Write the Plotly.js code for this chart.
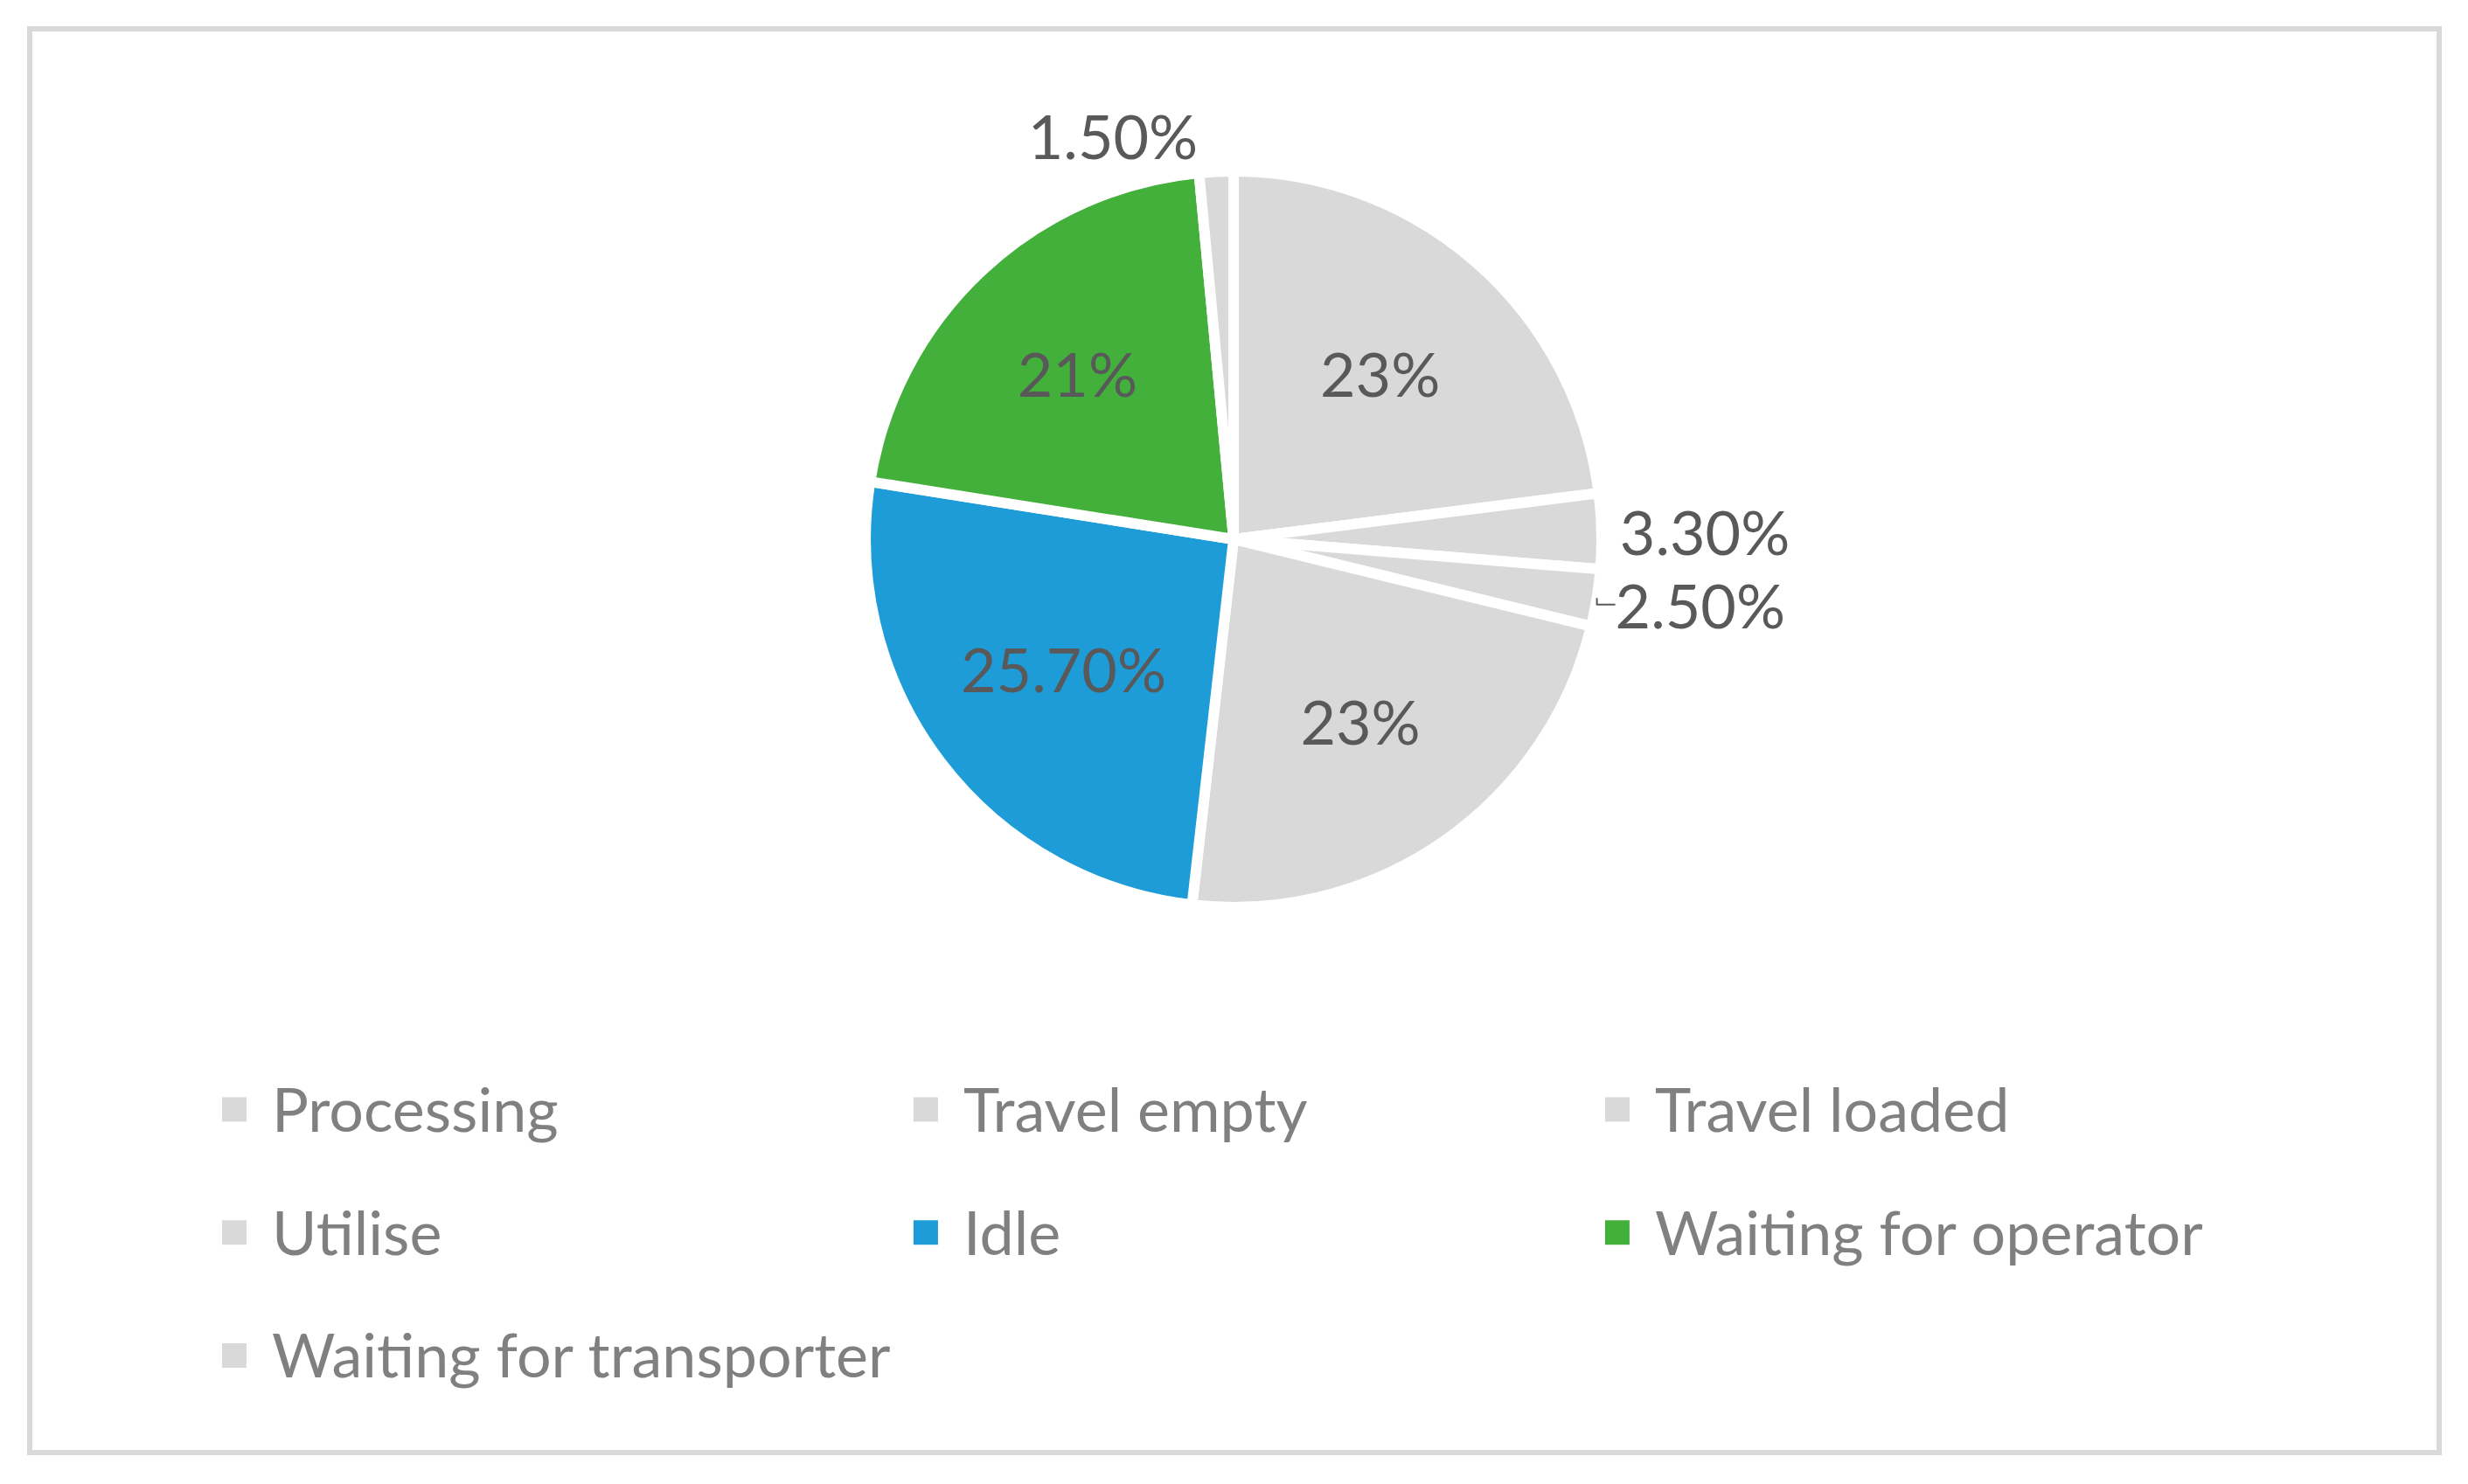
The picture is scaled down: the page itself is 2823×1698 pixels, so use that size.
<!DOCTYPE html>
<html>
<head>
<meta charset="utf-8">
<script src="https://cdn.plot.ly/plotly-3.0.1.min.js"></script>
<style>
    body { margin: 0; background: #fff; }
    /* legend text drawn smaller than the legend font, so the rows get the wider spacing */
    .legendtext { font-size: 70px !important; transform: translate(17px, 0); font-variant-ligatures: none; }
    .legendpie { stroke-width: 0 !important; transform: translate(14px, 16px) scale(2.333) !important; }
</style>
</head>
<body>
<div id="chartContainer" style="width:2823px;height:1698px;"></div>
<script>
// slice order, clockwise from 12 o'clock
var categories = ['Processing', 'Travel empty', 'Travel loaded', 'Utilise', 'Idle',
                  'Waiting for operator', 'Waiting for transporter'];
var shares = [23, 3.3, 2.5, 23, 25.7, 21, 1.5];
var shareLabels = ['23%', '3.30%', '2.50%', '23%', '25.70%', '21%', '1.50%'];
var labelPlaces = ['inside', 'outside', 'outside', 'inside', 'inside', 'inside', 'outside'];
var sliceColors = ['#d9d9d9', '#d9d9d9', '#d9d9d9', '#d9d9d9', '#1e9cd8', '#43b03b', '#d9d9d9'];

var font = 'Lato, "Open Sans", sans-serif';

var trace = {
    type: 'pie',
    labels: categories,
    values: shares,
    text: shareLabels,
    texttemplate: '%{text}',
    textposition: labelPlaces,
    insidetextorientation: 'horizontal',
    textfont: { family: font, size: 70, color: '#595959' },
    outsidetextfont: { family: font, size: 70, color: '#595959' },
    sort: false,
    direction: 'clockwise',
    rotation: 0,
    marker: {
        colors: sliceColors,
        line: { color: '#ffffff', width: 12 }
    },
    domain: { x: [0.3469, 0.6524], y: [0.3831, 0.8999] },
    hoverinfo: 'label+percent'
};

var layout = {
    width: 2823,
    height: 1698,
    margin: { l: 34, r: 33, t: 33, b: 36 },
    paper_bgcolor: '#ffffff',
    font: { family: font, color: '#808080' },
    showlegend: true,
    legend: {
        orientation: 'h',
        x: 0.0798,
        xanchor: 'left',
        y: 0.2971,
        yanchor: 'top',
        entrywidth: 746,
        entrywidthmode: 'pixels',
        font: { family: font, size: 106, color: '#808080' },
        bgcolor: 'rgba(0,0,0,0)'
    },
    shapes: [
        {
            type: 'rect',
            xref: 'paper', yref: 'paper',
            x0: 0, x1: 1, y0: 0, y1: 1,
            line: { color: '#d9d9d9', width: 6 }
        }
    ]
};

Plotly.newPlot('chartContainer', [trace], layout, { displayModeBar: false, staticPlot: true });
</script>
</body>
</html>
